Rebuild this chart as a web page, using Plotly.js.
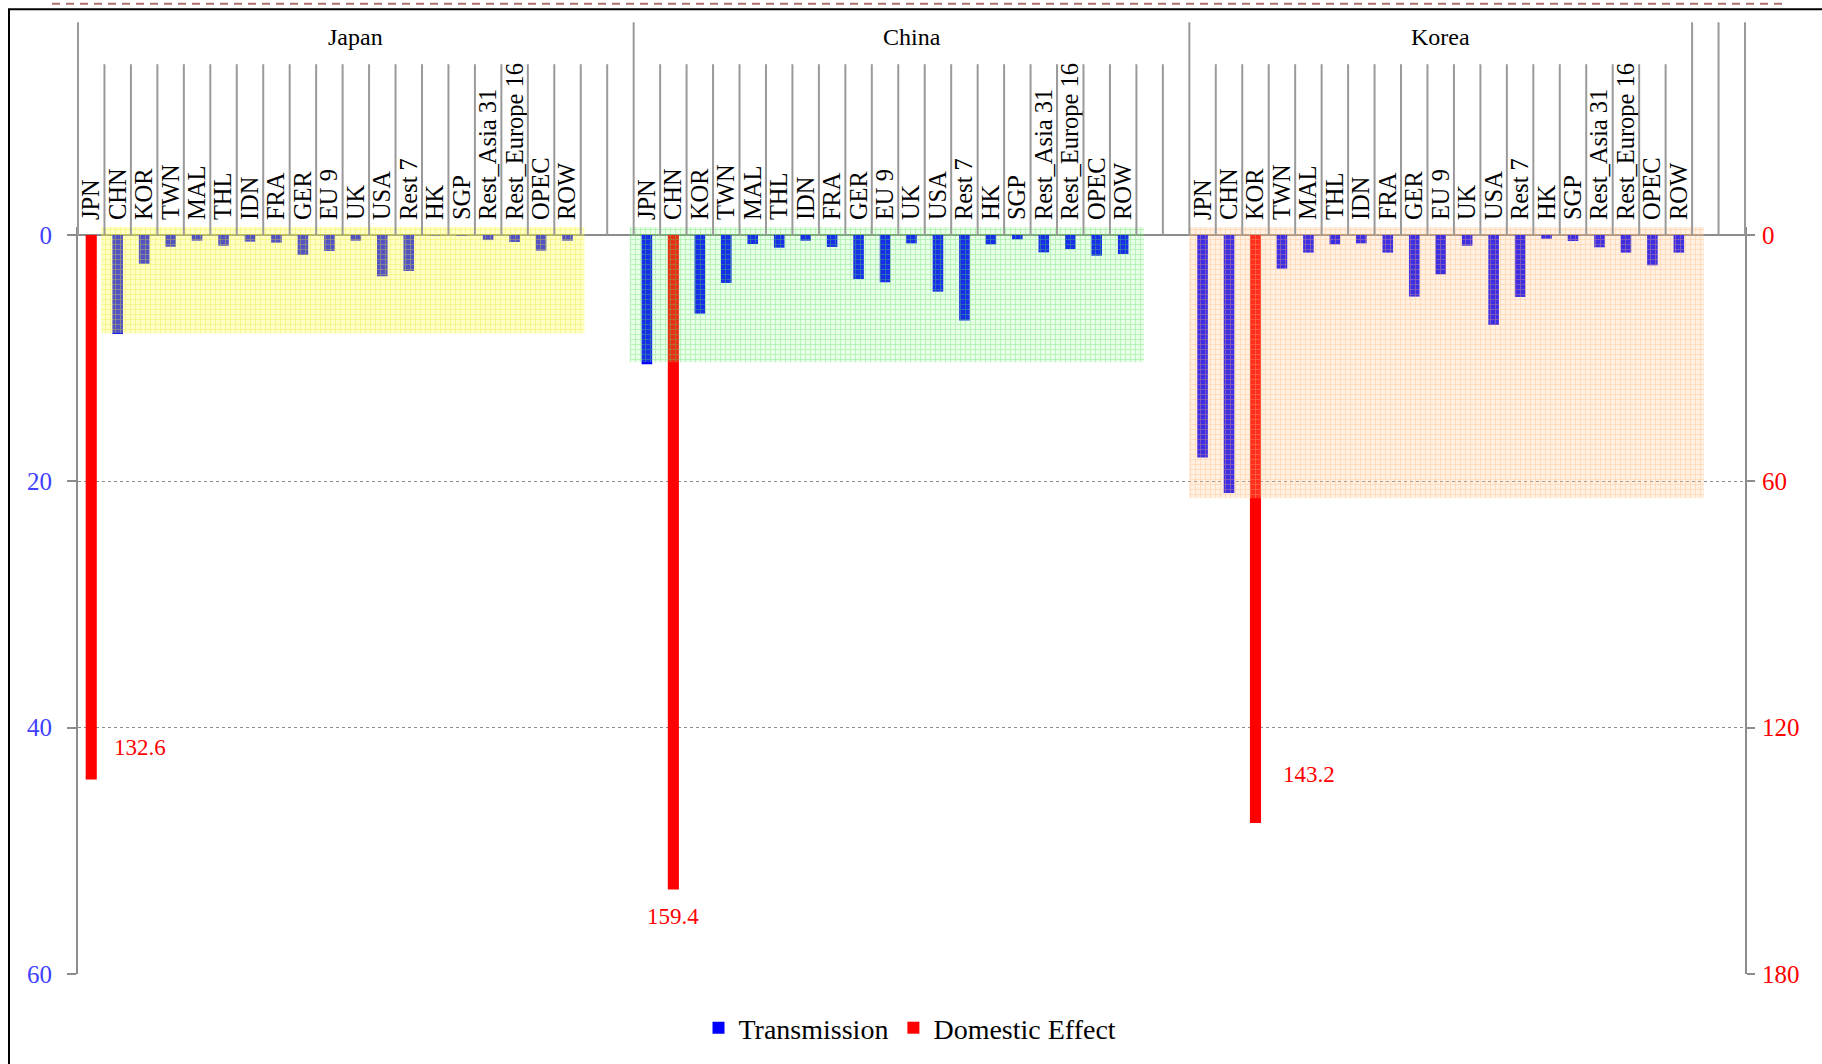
<!DOCTYPE html>
<html>
<head>
<meta charset="utf-8">
<script src="https://cdn.plot.ly/plotly-3.0.1.min.js"></script>
<style>
html,body{margin:0;padding:0;background:#fff;}
#chart{width:1822px;height:1064px;}
</style>
</head>
<body>
<div id="chart"></div>
<script>
// ---------------- DATA ----------------
const groups = ['Japan', 'China', 'Korea'];
const categories = ['JPN','CHN','KOR','TWN','MAL','THL','IDN','FRA','GER','EU 9','UK','USA','Rest 7','HK','SGP','Rest_Asia 31','Rest_Europe 16','OPEC','ROW'];
const transJapan = [null, 8.03, 2.33, 0.95, 0.46, 0.87, 0.54, 0.62, 1.62, 1.30, 0.46, 3.35, 2.92, 0.03, 0.05, 0.41, 0.57, 1.27, 0.46];
const transChina = [10.49, null, 6.38, 3.89, 0.73, 1.03, 0.46, 0.97, 3.57, 3.84, 0.68, 4.60, 6.95, 0.76, 0.35, 1.41, 1.14, 1.68, 1.54];
const transKorea = [18.06, 20.95, null, 2.73, 1.43, 0.76, 0.68, 1.43, 5.00, 3.19, 0.87, 7.30, 5.03, 0.30, 0.49, 1.00, 1.43, 2.46, 1.43];
const domesticEffect = [132.6, 159.4, 143.2];
const domesticCategory = ['JPN', 'CHN', 'KOR'];
const leftTicks = [0, 20, 40, 60];
const rightTicks = [0, 60, 120, 180];
const seriesNames = ['Transmission', 'Domestic Effect'];

// ---------------- LAYOUT / STYLE ----------------
const W = 1822, H = 1064;
const M = {l: 78, r: 77, t: 227, b: 89};
const groupStart = [0, 21, 42];          // column where each group starts
const groupSpan = [21, 21, 19];          // columns per labelled group
const nCols = 63;
const yTop = -0.65;                      // left-axis value at top edge of plot
const yBottom = 60;
const axisRatio = 180 / 60;              // right axis / left axis
const FONT = 'Liberation Serif';

const transAll = [transJapan, transChina, transKorea];

const pw = W - M.l - M.r, ph = H - M.t - M.b;
const pxX = px => (px - M.l) / pw;
const pxY = py => (H - M.b - py) / ph;
const zeroPaper = (yBottom - 0) / (yBottom - yTop);

// highlight boxes (decoration), relative to group start; bottom in left-axis units
const highlights = [
  {x0: 0.37, x1: 18.64, bottom: 7.97, bg: 'rgba(255,255,70,0.32)', fg: 'rgba(230,230,40,0.40)'},
  {x0: -0.65, x1: 18.79, bottom: 10.34, bg: 'rgba(120,255,120,0.18)', fg: 'rgba(90,220,90,0.40)'},
  {x0: -0.51, x1: 18.95, bottom: 21.37, bg: 'rgba(255,190,130,0.24)', fg: 'rgba(255,175,110,0.38)'}
];
// value label placement (px offsets)
const labelPlace = [
  {xanchor: 'left', xshift: 21, yshift: 32},
  {xanchor: 'center', xshift: 0, yshift: -27},
  {xanchor: 'left', xshift: 26, yshift: 48}
];

// ---------------- TRACES ----------------
const tX = [], tY = [];
transAll.forEach((arr, g) => {
  arr.forEach((v, k) => {
    if (v !== null) { tX.push(groupStart[g] + k); tY.push(v); }
  });
});
const dX = domesticEffect.map((v, g) => groupStart[g] + categories.indexOf(domesticCategory[g]));

const traces = [
  {
    type: 'bar', name: seriesNames[0], x: tX, y: tY, yaxis: 'y', width: 0.40,
    marker: {color: '#0000ff', line: {width: 0}}, hoverinfo: 'skip'
  },
  {
    type: 'bar', name: seriesNames[1], x: dX, y: domesticEffect, yaxis: 'y2', width: 0.42,
    marker: {color: '#ff0000', line: {width: 0}}, hoverinfo: 'skip'
  }
];
highlights.forEach((h, g) => {
  traces.push({
    type: 'bar', showlegend: false, hoverinfo: 'skip', yaxis: 'y2',
    x: [groupStart[g] + (h.x0 + h.x1) / 2], width: [h.x1 - h.x0],
    base: [yTop * axisRatio], y: [(h.bottom - yTop) * axisRatio],
    marker: {
      color: h.bg, line: {width: 0},
      pattern: {shape: '+', fillmode: 'replace', bgcolor: h.bg, fgcolor: h.fg, size: 5, solidity: 0.3}
    }
  });
});

// ---------------- TICKS ----------------
const tickvals = [], ticktext = [];
groups.forEach((gname, g) => {
  categories.forEach((c, k) => { tickvals.push(groupStart[g] + k); ticktext.push(c); });
});

// ---------------- SHAPES ----------------
const shapes = [];
const tall = [0, 21, 42, 61, 62, 63];
for (let b = 0; b <= nCols; b++) {
  const isTall = tall.indexOf(b) >= 0;
  shapes.push({
    type: 'line', xref: 'paper', yref: 'paper', layer: 'above',
    x0: b / nCols, x1: b / nCols,
    y0: zeroPaper, y1: pxY(isTall ? 22 : 64),
    line: {color: '#9a9a9a', width: 2}
  });
}
// outer frame
shapes.push({type: 'rect', xref: 'paper', yref: 'paper', layer: 'above',
  x0: pxX(9), x1: pxX(1900), y0: pxY(1200), y1: pxY(9),
  line: {color: '#000', width: 2}, fillcolor: 'rgba(0,0,0,0)'});
// dashed line on top
shapes.push({type: 'line', xref: 'paper', yref: 'paper', layer: 'above',
  x0: pxX(52), x1: pxX(1786), y0: pxY(3.5), y1: pxY(3.5),
  line: {color: '#b07070', width: 2, dash: '8px,6px'}});

// ---------------- ANNOTATIONS ----------------
const annotations = [];
groups.forEach((gname, g) => {
  annotations.push({
    xref: 'x', yref: 'paper', x: groupStart[g] + (groupSpan[g] - 1) / 2, y: pxY(36.5),
    text: gname, showarrow: false, xanchor: 'center', yanchor: 'middle',
    font: {family: FONT, size: 24, color: '#000'}
  });
});
domesticEffect.forEach((v, g) => {
  const p = labelPlace[g];
  annotations.push({
    xref: 'x', yref: 'y2', x: dX[g], y: v, text: v.toFixed(1), showarrow: false,
    xanchor: p.xanchor, yanchor: 'middle', xshift: p.xshift, yshift: p.yshift,
    font: {family: FONT, size: 23, color: '#ff0000'}
  });
});

const layout = {
  width: W, height: H,
  margin: M,
  paper_bgcolor: '#fff', plot_bgcolor: '#fff',
  barmode: 'overlay',
  font: {family: FONT},
  showlegend: true,
  legend: {
    orientation: 'h', x: pxX(910), xanchor: 'center', y: pxY(1028), yanchor: 'middle',
    font: {family: FONT, size: 28, color: '#000'}, bgcolor: 'rgba(0,0,0,0)'
  },
  xaxis: {
    range: [-0.5, nCols - 0.5], tickmode: 'array', tickvals: tickvals, ticktext: ticktext,
    side: 'top', anchor: 'free', position: zeroPaper, tickangle: -90,
    ticks: 'outside', ticklen: 10, tickcolor: 'rgba(0,0,0,0)',
    showline: false, showgrid: false, zeroline: false, fixedrange: true,
    tickfont: {family: FONT, size: 24.5, color: '#000'}
  },
  yaxis: {
    range: [yBottom, yTop], tickmode: 'array', tickvals: leftTicks, ticktext: leftTicks.map(String),
    showgrid: true, gridcolor: '#8c8c8c', griddash: 'dot', gridwidth: 1.5,
    zeroline: true, zerolinecolor: '#8c8c8c', zerolinewidth: 2,
    showline: true, linecolor: '#8c8c8c', linewidth: 2,
    ticks: 'outside', ticklen: 9, tickwidth: 2, tickcolor: '#8c8c8c',
    ticklabelstandoff: 10, fixedrange: true,
    tickfont: {family: FONT, size: 25, color: '#4040ff'}
  },
  yaxis2: {
    overlaying: 'y', side: 'right', anchor: 'x',
    range: [yBottom * axisRatio, yTop * axisRatio], tickmode: 'array', tickvals: rightTicks, ticktext: rightTicks.map(String),
    showgrid: false, zeroline: false,
    showline: true, linecolor: '#8c8c8c', linewidth: 2,
    ticks: 'outside', ticklen: 8, tickwidth: 2, tickcolor: '#8c8c8c',
    ticklabelstandoff: 2, fixedrange: true,
    tickfont: {family: FONT, size: 25, color: '#ff0000'}
  },
  shapes: shapes,
  annotations: annotations
};

Plotly.newPlot('chart', traces, layout, {displayModeBar: false, staticPlot: true});
</script>
</body>
</html>
